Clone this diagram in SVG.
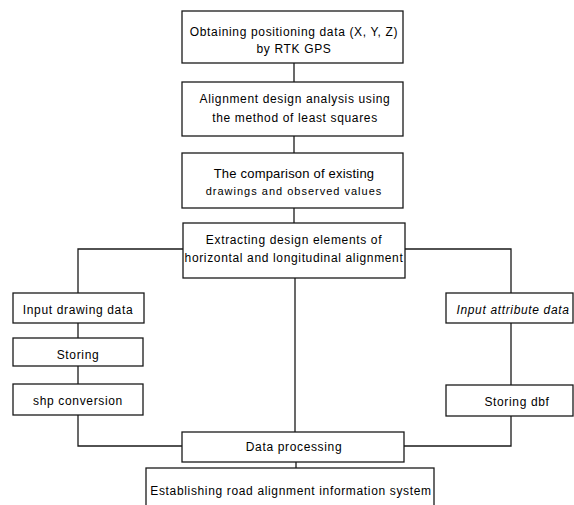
<svg xmlns="http://www.w3.org/2000/svg" width="574" height="505" viewBox="0 0 574 505">
<style>
.b{fill:#fff;stroke:#1a1a1a;stroke-width:1.3}
.c{fill:none;stroke:#1a1a1a;stroke-width:1.3}
text{font-family:"Liberation Sans",Arial,sans-serif;font-size:12px;fill:#000;text-anchor:middle;letter-spacing:0.65px}
</style>
<rect width="574" height="505" fill="#fff"/>
<g id="connectors">
<path class="c" d="M294 63V82M294 136V153M294 208V223"/>
<path class="c" d="M183 249H78V293M405 249H511V293"/>
<path class="c" d="M78 323V338M78 366V384M78 415V446H182"/>
<path class="c" d="M511 323V385M511 416V446H404"/>
<path class="c" d="M295 278V432M296 462V468"/>
</g>
<g id="n1"><rect class="b" x="182" y="11" width="221" height="52"/>
<text x="294" y="36">Obtaining positioning data (X, Y, Z)</text>
<text x="294" y="53">by RTK GPS</text></g>
<g id="n2"><rect class="b" x="182" y="82" width="221" height="54"/>
<text x="295" y="103">Alignment design analysis using</text>
<text x="295" y="122">the method of least squares</text></g>
<g id="n3"><rect class="b" x="182" y="153" width="221" height="55"/>
<text x="294" y="178" style="font-size:13px;letter-spacing:0.2px">The comparison of existing</text>
<text x="294" y="195" style="font-size:11px;letter-spacing:1px">drawings and observed values</text></g>
<g id="n4"><rect class="b" x="183" y="223" width="222" height="55"/>
<text x="294" y="244">Extracting design elements of</text>
<text x="294" y="262">horizontal and longitudinal alignment</text></g>
<g id="n5"><rect class="b" x="13" y="293" width="131" height="30"/>
<text x="78" y="314">Input drawing data</text></g>
<g id="n6"><rect class="b" x="13" y="338" width="130" height="28"/>
<text x="78" y="359">Storing</text></g>
<g id="n7"><rect class="b" x="13" y="384" width="130" height="31"/>
<text x="78" y="405">shp conversion</text></g>
<g id="n8"><rect class="b" x="446" y="293" width="127" height="30"/>
<text x="513" y="314" style="font-style:italic">Input attribute data</text></g>
<g id="n9"><rect class="b" x="446" y="385" width="127" height="31"/>
<text x="517" y="406">Storing dbf</text></g>
<g id="n10"><rect class="b" x="182" y="432" width="222" height="30"/>
<text x="294" y="451">Data processing</text></g>
<g id="n11"><rect class="b" x="146" y="468" width="288" height="45"/>
<text x="291" y="495">Establishing road alignment information system</text></g>
</svg>
